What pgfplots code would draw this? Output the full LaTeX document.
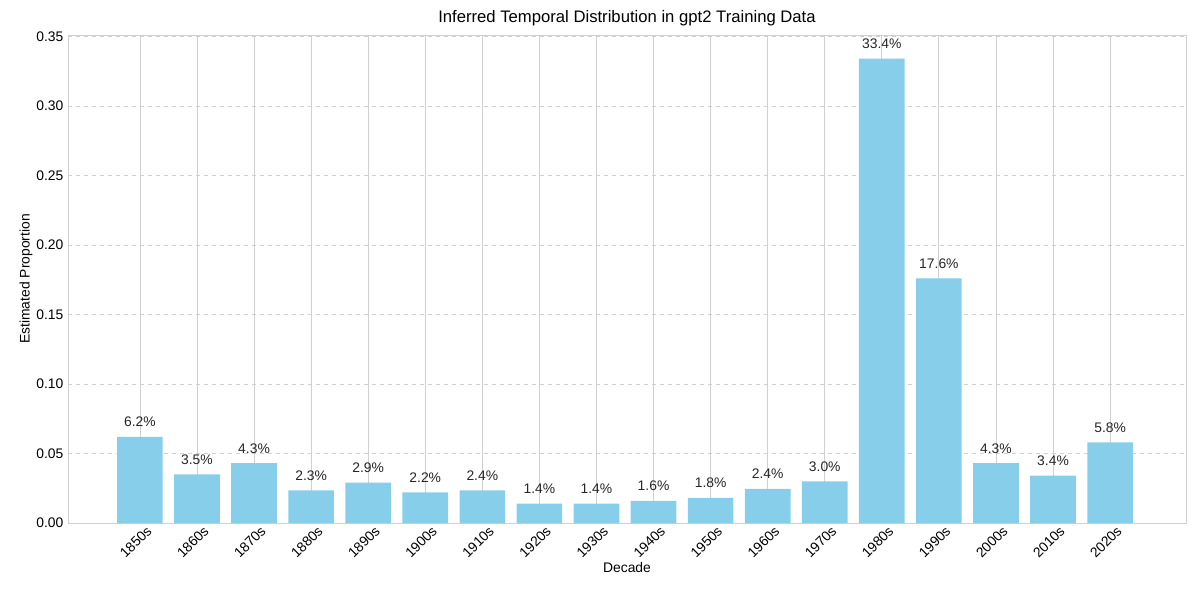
\documentclass[border=0pt]{standalone}
\usepackage{pgfplots}
\pgfplotsset{compat=1.18}
\usepackage{fontspec}
\setmainfont{Liberation Sans}
\definecolor{sky}{HTML}{87CEEB}
\definecolor{gridc}{HTML}{D0D0D0}
\begin{document}
\begin{tikzpicture}[x=0.75pt,y=0.75pt]
\path[use as bounding box] (-68*0.75pt,-77*0.75pt) rectangle (1132*0.75pt,523*0.75pt);
\begin{axis}[
  at={(0,0)}, anchor=south west,
  scale only axis, width=838.5pt, height=366pt,
  xmin=-1.26, xmax=18.33, ymin=0, ymax=0.351,
  ybar, bar width=0.8*42.8pt, bar shift=0pt,
  xtick={0,...,17},
  xticklabels={1850s,1860s,1870s,1880s,1890s,1900s,1910s,1920s,1930s,1940s,1950s,1960s,1970s,1980s,1990s,2000s,2010s,2020s},
  x tick label style={rotate=45,anchor=north east,inner sep=1pt,xshift=6pt},
  ytick={0,0.05,...,0.35},
  yticklabel style={/pgf/number format/fixed,/pgf/number format/precision=2,/pgf/number format/fixed zerofill},
  /pgf/number format/assume math mode=true,
  tick style={draw=none},
  axis line style={gridc},
  xmajorgrids, ymajorgrids,
  x grid style={gridc, line width=0.6pt},
  y grid style={gridc, dashed, line width=0.6pt},
  font=\fontsize{10.4pt}{12pt}\selectfont,
  title={Inferred Temporal Distribution in gpt2 Training Data},
  title style={font=\fontsize{12.5pt}{14pt}\selectfont, yshift=-3pt},
  xlabel={Decade}, ylabel={Estimated Proportion},
  xlabel style={yshift=2pt}, ylabel style={yshift=-4pt},
  point meta=explicit symbolic,
  nodes near coords={\pgfplotspointmeta\%},
  nodes near coords style={font=\fontsize{10.4pt}{12pt}\selectfont, yshift=4pt, text=black!85},
]
\addplot[fill=sky, draw=none] coordinates {
(0,0.062) [6.2] (1,0.035) [3.5] (2,0.043) [4.3] (3,0.0235) [2.3] (4,0.029) [2.9] (5,0.022) [2.2] (6,0.0235) [2.4] (7,0.014) [1.4] (8,0.014) [1.4]
(9,0.016) [1.6] (10,0.018) [1.8] (11,0.0245) [2.4] (12,0.030) [3.0] (13,0.334) [33.4] (14,0.176) [17.6] (15,0.043) [4.3] (16,0.034) [3.4] (17,0.058) [5.8]};
\end{axis}
\end{tikzpicture}
\end{document}
